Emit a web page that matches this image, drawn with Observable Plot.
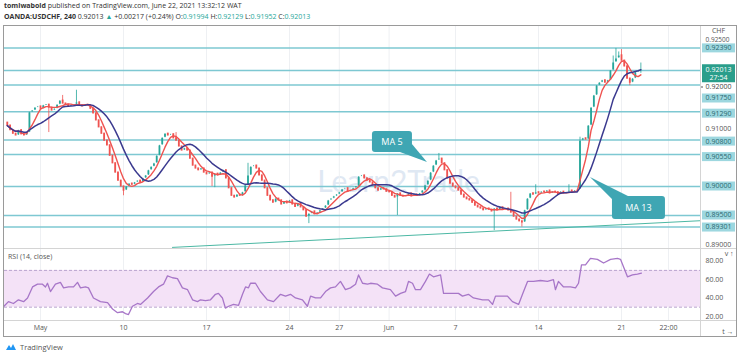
<!DOCTYPE html>
<html>
<head>
<meta charset="utf-8">
<script src="https://cdn.jsdelivr.net/npm/d3@7"></script>
<script src="https://cdn.jsdelivr.net/npm/@observablehq/plot@0.6"></script>
<style>
  html,body{margin:0;padding:0;background:#fff;}
  body{width:740px;height:357px;position:relative;overflow:hidden;font-family:"Open Sans",sans-serif;}
  .abs{position:absolute;}
  #h1,#h2{left:4px;font-size:7px;color:#333;white-space:nowrap;line-height:10px;}
  #h1{top:1px;} #h2{top:12px;}
  .g{color:#26a69a;}
  #frame{left:3px;top:25px;width:732px;height:310px;border:1px solid #9a9a9a;pointer-events:none;z-index:5;}
  .sep{background:#d4d4d4;z-index:4;}
  #price{left:4px;top:25px;}
  #rsi{left:4px;top:248px;}
  #rsiLab{left:8px;top:252px;font-size:7px;color:#555;z-index:6;}
  #foot{left:5px;top:342px;font-size:7.5px;color:#555;display:flex;align-items:center;gap:3px;}
</style>
</head>
<body>
<div id="h1" class="abs"></div>
<div id="h2" class="abs"></div>
<div id="price" class="abs"></div>
<div id="rsi" class="abs"></div>
<div id="rsiLab" class="abs">RSI (14, close)</div>
<div class="abs sep" style="left:4px;top:248px;width:732px;height:1px"></div>
<div class="abs sep" style="left:4px;top:320px;width:732px;height:1px"></div>
<div class="abs sep" style="left:700px;top:26px;width:1px;height:310px"></div>
<div id="frame" class="abs"></div>
<div id="foot" class="abs"><svg width="12" height="8" viewBox="0 0 12 8"><path d="M1 7 L4 2 L6 5 L8 1 L11 7 Z" fill="#2196f3"/></svg><span>TradingView</span></div>
<script>
// ================= DATA =================
const author = "tomiwabold";
const published = "published on TradingView.com, June 22, 2021 13:32:12 WAT";
const symbol = "OANDA:USDCHF, 240";
const currency = "CHF";
const changeAbs = "+0.00217", changePct = "+0.24%";
const countdown = "27:54";

// 240-minute bars, six per trading day; day 0 = Mon May 3, weekends skipped
const startDay = -2, barsPerDay = 6;
const firstOpen = 0.9110;
const closes = [
  0.9105,0.9097,0.9091,0.9088,0.9097,0.9090,
  0.9088,0.9093,0.9128,0.9131,0.9136,0.9138,
  0.9134,0.9140,0.9141,0.9136,0.9131,0.9134,
  0.9141,0.9148,0.9143,0.9141,0.9138,0.9140,
  0.9141,0.9145,0.9140,0.9138,0.9141,0.9140,
  0.9134,0.9126,0.9114,0.9102,0.9091,0.9079,
  0.9071,0.9053,0.9040,0.9024,0.9010,0.9000,
  0.8993,0.9000,0.9005,0.9003,0.9007,0.9010,
  0.9007,0.9014,0.9019,0.9028,0.9034,0.9040,
  0.9053,0.9071,0.9084,0.9091,0.9088,0.9090,
  0.9083,0.9079,0.9069,0.9062,0.9066,0.9062,
  0.9048,0.9036,0.9031,0.9028,0.9031,0.9024,
  0.9021,0.9024,0.9017,0.9022,0.9019,0.9024,
  0.9028,0.9014,0.8997,0.8984,0.8981,0.8986,
  0.8984,0.8990,0.9002,0.9019,0.9034,0.9036,
  0.9031,0.9019,0.9010,0.8997,0.8984,0.8976,
  0.8972,0.8979,0.8976,0.8969,0.8974,0.8971,
  0.8976,0.8969,0.8965,0.8971,0.8964,0.8959,
  0.8948,0.8953,0.8957,0.8952,0.8955,0.8959,
  0.8962,0.8967,0.8976,0.8979,0.8983,0.8986,
  0.8990,0.8995,0.8997,0.8991,0.8993,0.8997,
  0.9000,0.9017,0.9019,0.9014,0.9010,0.9007,
  0.9002,0.8997,0.8993,0.8997,0.8995,0.8991,
  0.8990,0.8984,0.8981,0.8988,0.8984,0.8983,
  0.8984,0.8988,0.8983,0.8986,0.8984,0.8988,
  0.8993,0.9002,0.9010,0.9024,0.9036,0.9045,
  0.9048,0.9040,0.9028,0.9014,0.9005,0.9000,
  0.8997,0.8993,0.8986,0.8981,0.8978,0.8976,
  0.8972,0.8967,0.8964,0.8962,0.8959,0.8962,
  0.8960,0.8957,0.8962,0.8959,0.8964,0.8960,
  0.8962,0.8959,0.8955,0.8948,0.8943,0.8940,
  0.8938,0.8959,0.8979,0.8988,0.8986,0.8990,
  0.8988,0.8991,0.8990,0.8993,0.8988,0.8991,
  0.8990,0.8986,0.8991,0.8988,0.8990,0.8993,
  0.8991,0.8993,0.8995,0.9079,0.9083,0.9081,
  0.9105,0.9136,0.9157,0.9174,0.9179,0.9183,
  0.9179,0.9183,0.9200,0.9214,0.9221,0.9226,
  0.9217,0.9207,0.9186,0.9179,0.9186,0.9197,
  0.91994,0.92013
];
const lastOHLC = [0.91994, 0.92129, 0.91952, 0.92013];

// notable wicks (bar index, high, low)
const wickBar  = [15, 20, 25, 42, 61, 74, 75, 87, 109, 141, 156, 176, 182, 186, 191, 203, 207, 219, 220, 221, 222, 225];
const wickHigh = [null,0.9157,0.9166,null,0.9093,null,null,0.9040,null,null,0.9057,null,0.8990,null,0.9003,0.9003,0.9085,0.9225,0.9238,0.9232,0.9236,null];
const wickLow  = [0.9093,null,null,0.8984,null,0.9000,0.8998,null,0.8936,0.8950,null,0.8924,null,0.8930,null,null,null,null,null,null,null,0.9174];

const maPeriods = [5, 13];

// drawn horizontal levels and the trend line
const levels = [0.92390, 0.92000, 0.91750, 0.91290, 0.90800, 0.90550, 0.90000, 0.89500, 0.89301];
const topPriceTick = [0.925];
const plainPriceTicks = [0.910, 0.890];
const trendDay = [7.95, 39.76];
const trendPrice = [0.8895, 0.8941];

// callouts
const calloutText = ["MA 5", "MA 13"];
const calloutDay = [23.31, 33.13];
const calloutPrice = [0.90414, 0.90155];

// RSI (14, close)
const rsiDay = [-2.2,-1.93,-1.63,-1.33,-1.02,-0.78,-0.48,-0.18,0.12,0.30,0.42,0.60,0.90,1.20,1.39,1.69,1.99,2.23,2.41,2.71,2.89,3.19,3.61,4.04,4.34,4.64,4.94,5.12,5.30,5.54,5.84,6.02,6.45,6.81,7.11,7.41,7.65,7.95,8.25,8.55,8.86,9.16,9.46,9.64,9.94,10.24,10.54,10.72,10.96,11.14,11.33,11.63,11.93,12.17,12.35,12.53,12.65,12.95,13.25,13.67,14.04,14.46,14.76,15.06,15.36,15.78,16.08,16.27,16.57,16.87,17.17,17.47,17.77,18.07,18.37,18.67,18.98,19.16,19.40,19.70,19.88,20.30,20.60,21.08,21.39,21.69,21.99,22.17,22.41,22.59,22.89,23.19,23.43,23.67,24.10,24.28,24.70,25.18,25.42,25.78,26.08,26.63,26.99,27.23,27.41,27.71,28.13,28.43,28.80,29.10,29.34,29.70,30.12,30.54,30.90,31.02,31.20,31.51,31.93,32.23,32.41,32.59,32.83,33.13,33.55,33.92,34.34,34.76,34.94,35.12,35.36,35.66,35.96,36.20];
const rsiValue = [31,36,34,38,36,40,52,55,55,52,56,47,55,57,51,52,52,57,51,52,51,40,36,35,28,24,25,23,22,31,34,33,40,47,52,55,64,62,61,51,49,38,36,38,37,38,44,45,40,29,31,33,32,44,52,51,56,56,47,38,36,44,42,44,40,38,31,42,40,40,47,51,52,58,49,51,55,65,56,55,56,55,51,49,42,45,47,58,56,49,49,58,66,63,65,45,45,45,42,44,40,38,38,33,42,42,42,36,33,47,58,58,59,58,60,49,58,52,52,51,56,76,76,83,82,78,82,83,82,74,63,65,66,67];
const rsiBand = [30, 70];
const rsiTicks = [20, 40, 60, 80];

// time axis
const dateTicks  = [0, 5, 10, 15, 18, 21, 25, 30, 35, 37.83];
const dateLabels = ["May", "10", "17", "24", "27", "Jun", "7", "14", "21", "22:00"];

// ================= BUILD =================
const fmt5 = d3.format(".5f");
const up = "#26a69a", down = "#ef5350";
const wickMap = new Map(wickBar.map((b, i) => [b, [wickHigh[i], wickLow[i]]]));
const bars = closes.map((c, i) => {
  const open = i === 0 ? firstOpen : closes[i - 1];
  let high = Math.max(open, c), low = Math.min(open, c);
  const w = wickMap.get(i);
  if (w) { if (w[0] != null) high = w[0]; if (w[1] != null) low = w[1]; }
  if (i === closes.length - 1) { high = lastOHLC[1]; low = lastOHLC[2]; }
  return {t: startDay + i / barsPerDay, open, close: c, high, low, dir: c >= open ? "up" : "down"};
});
const trend = trendDay.map((t, i) => ({t, p: trendPrice[i]}));
const rsi = rsiDay.map((t, i) => ({t, v: rsiValue[i]}));
const labelOf = new Map(dateTicks.map((d, i) => [d, dateLabels[i]]));

// header
document.getElementById("h1").innerHTML = `<b>${author}</b> ${published}`;
document.getElementById("h2").innerHTML =
  `<b>${symbol}</b> ${fmt5(lastOHLC[3])} <span class="g">▲</span> ${changeAbs} (${changePct}) ` +
  `O:<span class="g">${fmt5(lastOHLC[0])}</span> H:<span class="g">${fmt5(lastOHLC[1])}</span> ` +
  `L:<span class="g">${fmt5(lastOHLC[2])}</span> C:<span class="g">${fmt5(lastOHLC[3])}</span>`;

// layout constants (pixels)
const W = 732, mR = 36;
const xDomain = [-2.1687, 39.759];
const font = "Open Sans, sans-serif";

const price = Plot.plot({
  width: W, height: 223,
  marginTop: 0, marginBottom: 0, marginLeft: 0, marginRight: mR,
  style: {fontFamily: font, color: "#555", background: "transparent"},
  x: {domain: xDomain, axis: null},
  y: {domain: [0.88931, 0.927759], axis: null},
  color: {domain: ["up", "down"], range: [up, down]},
  marks: [
    Plot.ruleX(dateTicks, {stroke: "#eef0f3", strokeWidth: 1}),
    Plot.ruleY(levels, {stroke: "#7ec8d2", strokeWidth: 1.5}),
    Plot.line(trend, {x: "t", y: "p", stroke: "#4cb8a4", strokeWidth: 1, clip: true}),
    Plot.ruleX(bars, {x: "t", y1: "low", y2: "high", stroke: "dir", strokeWidth: 0.8, clip: true}),
    Plot.ruleX(bars, {x: "t", y1: "open", y2: "close", stroke: "dir", strokeWidth: 1.8, insetTop: -0.6, insetBottom: -0.6, clip: true}),
    Plot.lineY(bars, Plot.windowY({k: maPeriods[0], anchor: "end"}, {x: "t", y: "close", stroke: "#ef5350", strokeWidth: 1.4, clip: true})),
    Plot.lineY(bars, Plot.windowY({k: maPeriods[1], anchor: "end"}, {x: "t", y: "close", stroke: "#3b3a8f", strokeWidth: 1.5, clip: true})),
    Plot.axisY(plainPriceTicks, {anchor: "right", tickSize: 0, tickPadding: 5, tickFormat: fmt5, fontSize: 7}),
    Plot.axisY(topPriceTick, {anchor: "right", tickSize: 0, tickPadding: 5, tickFormat: fmt5, fontSize: 6.5, dy: -2})
  ]
});
document.getElementById("price").appendChild(price);

const xs = price.scale("x"), ys = price.scale("y");
const svg = d3.select(price);

// watermark behind marks
const wm = svg.insert("g", "g").attr("font-family", "Lato, sans-serif").attr("font-size", 30).attr("fill", "#dfe8f3");
wm.append("text").attr("x", xs.apply(21.6)).attr("y", ys.apply(0.8989)).attr("text-anchor", "middle").text("Learn2Trade");

// level labels
const nudge = [0.5, 17, 13.5, 2, 1.5, 2.5, 0, 0, 0.5];
const lab = svg.append("g").attr("font-family", font).attr("font-size", 7);
const lx = W - mR + 2;
levels.forEach((v, i) => {
  const cy = ys.apply(v) + nudge[i];
  if (i === 1) {
    lab.append("line").attr("x1", lx - 2).attr("x2", lx + 1).attr("y1", cy).attr("y2", cy).attr("stroke", "#555");
    lab.append("text").attr("x", lx + 16.5).attr("y", cy).attr("dy", "0.35em").attr("text-anchor", "middle").attr("fill", "#444").text(fmt5(v));
    return;
  }
  lab.append("rect").attr("x", lx).attr("y", cy - 4.5).attr("width", 33).attr("height", 9).attr("fill", "#9dd7df");
  lab.append("text").attr("x", lx + 16.5).attr("y", cy).attr("dy", "0.35em").attr("text-anchor", "middle").attr("fill", "#2a6770").text(fmt5(v));
});
// current price box
{
  const cy = ys.apply(lastOHLC[3]);
  lab.append("rect").attr("x", lx).attr("y", cy - 5).attr("width", 33).attr("height", 18).attr("fill", "#2a9e8b");
  lab.append("text").attr("x", lx + 16.5).attr("y", cy).attr("dy", "0.35em").attr("text-anchor", "middle").attr("fill", "#fff").text(fmt5(lastOHLC[3]));
  lab.append("text").attr("x", lx + 16.5).attr("y", cy + 8).attr("dy", "0.35em").attr("text-anchor", "middle").attr("fill", "#fff").text(countdown);
}
// currency
lab.append("text").attr("x", lx + 16.5).attr("y", 5.5).attr("dy", "0.35em").attr("text-anchor", "middle").attr("fill", "#555").text(currency);

// callouts: box offset and tail relative to pointer tip (px)
const calloutGeom = [
  {box: [-55, -31, 40, 21], tail: [[-27, -10], [-15, -18]]},
  {box: [22, 19, 53, 23], tail: [[22, 22], [38, 19]]}
];
const ann = svg.append("g").attr("font-family", font);
calloutText.forEach((txt, i) => {
  const px = xs.apply(calloutDay[i]), py = ys.apply(calloutPrice[i]);
  const g = calloutGeom[i];
  ann.append("path")
    .attr("d", `M${px},${py}L${px + g.tail[0][0]},${py + g.tail[0][1]}L${px + g.tail[1][0]},${py + g.tail[1][1]}Z`)
    .attr("fill", "#3fa6b3");
  ann.append("rect").attr("x", px + g.box[0]).attr("y", py + g.box[1]).attr("width", g.box[2]).attr("height", g.box[3])
    .attr("rx", 3).attr("fill", "#3fa6b3");
  ann.append("text").attr("x", px + g.box[0] + g.box[2] / 2).attr("y", py + g.box[1] + g.box[3] / 2)
    .attr("dy", "0.35em").attr("text-anchor", "middle").attr("fill", "#fff").attr("font-size", 9).text(txt);
});

// RSI pane
const rsiPlot = Plot.plot({
  width: W, height: 88,
  marginTop: 0, marginBottom: 16, marginLeft: 0, marginRight: mR,
  style: {fontFamily: font, color: "#555", background: "transparent"},
  x: {domain: xDomain, axis: null},
  y: {domain: [15.5, 93.8], axis: null},
  marks: [
    Plot.ruleX(dateTicks, {stroke: "#eef0f3", strokeWidth: 1}),
    Plot.areaY(xDomain, {x: d => d, y1: () => rsiBand[0], y2: () => rsiBand[1], fill: "#f4e2f7"}),
    Plot.ruleY(rsiBand, {stroke: "#b9a3cf", strokeDasharray: "3,2"}),
    Plot.line(rsi, {x: "t", y: "v", stroke: "#a776c8", strokeWidth: 1.3, clip: true}),
    Plot.axisY(rsiTicks, {anchor: "right", tickSize: 0, tickPadding: 5, tickFormat: d3.format(".2f"), fontSize: 7}),
    Plot.axisX(dateTicks, {anchor: "bottom", tickSize: 0, tickPadding: 5, tickFormat: d => labelOf.get(d), fontSize: 7})
  ]
});
document.getElementById("rsi").appendChild(rsiPlot);
</script>
</body>
</html>
